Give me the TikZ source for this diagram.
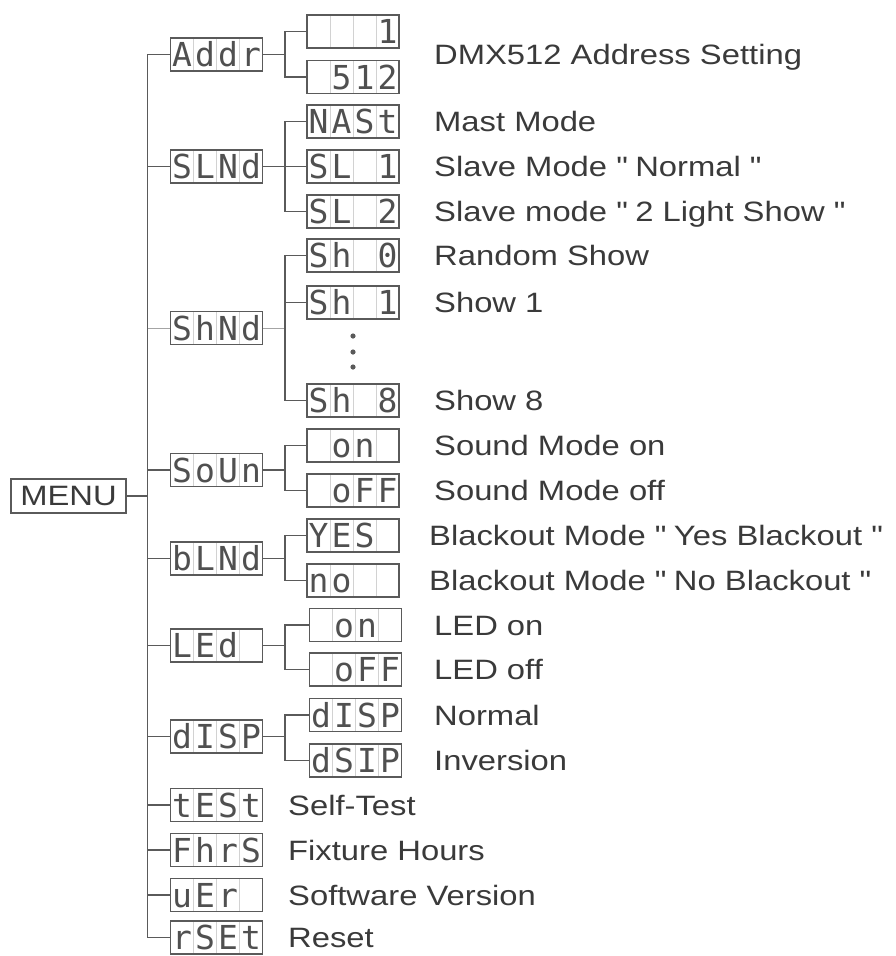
\documentclass[tikz,border=0pt]{standalone}
\usepackage{fontspec}
\setmainfont{Liberation Sans}[FakeStretch=1.17]
\newfontfamily\lcdfont{DejaVu Sans Mono}
\usetikzlibrary{calc}
\definecolor{inkgray}{HTML}{3A3A3A}
\definecolor{linegray}{HTML}{5A5A5A}
\definecolor{cellgray}{HTML}{D2D2D2}
\definecolor{seggray}{HTML}{505050}
% four cells of a display
\newcommand{\lcd}[4]{\makebox[23pt]{#1}\makebox[23pt]{#2}\makebox[23pt]{#3}\makebox[23pt]{#4}}
\newcommand{\qq}{\textquotedbl}
\tikzset{
    lcdbox/.style={draw=linegray, line width=1.3pt, minimum width=92pt, minimum height=33pt,
        inner sep=0pt, text height=24pt, text depth=0pt, text=seggray,
        font=\lcdfont\fontsize{33}{33}\selectfont,
        path picture={\foreach \k in {1,2,3}{
            \draw[cellgray, line width=0.8pt]
                ($(path picture bounding box.north west)!\k/4!(path picture bounding box.north east)$) --
                ($(path picture bounding box.south west)!\k/4!(path picture bounding box.south east)$);}}},
    lbl/.style={anchor=base west, inner sep=0pt, text=inkgray, font=\fontsize{28}{30}\selectfont},
    link/.style={draw=linegray, line width=1.4pt},
    faint/.style={draw=linegray!55, line width=0.8pt},
}
\begin{document}
\begin{tikzpicture}[x=1pt, y=-1pt]
    \useasboundingbox (0,0) rectangle (896,956);

    % ROOT: MENU
    \node[draw=linegray, line width=1.3pt, minimum width=115pt, minimum height=34pt, inner sep=0pt,
        text=inkgray, font=\fontsize{28}{30}\selectfont] (menu) at (68.5,496) {MENU};
    \coordinate (trunk) at (147.5,496);

    % FIRST LEVEL
    \node[lcdbox] (addr) at (216.5,54.5) {\lcd{A}{d}{d}{r}};
    \node[lcdbox] (slmd) at (216.5,166.5) {\lcd{S}{L}{N}{d}};
    \node[lcdbox] (shmd) at (216.5,328) {\lcd{S}{h}{N}{d}};
    \node[lcdbox] (soun) at (216.5,470) {\lcd{S}{o}{U}{n}};
    \node[lcdbox] (blmd) at (216.5,558.5) {\lcd{b}{L}{N}{d}};
    \node[lcdbox] (led) at (216.5,645.5) {\lcd{L}{E}{d}{}};
    \node[lcdbox] (disp) at (216.5,736.5) {\lcd{d}{I}{S}{P}};
    \node[lcdbox] (test) at (216.5,805) {\lcd{t}{E}{S}{t}};
    \node[lcdbox] (fhrs) at (216.5,850) {\lcd{F}{h}{r}{S}};
    \node[lcdbox] (ver) at (216.5,895) {\lcd{u}{E}{r}{}};
    \node[lcdbox] (rset) at (216.5,937.5) {\lcd{r}{S}{E}{t}};

    % trunk
    \draw[link] (menu.east) -- (trunk);
    \draw[link] (addr.west) -| (trunk) |- (rset.west);
    \foreach \n in {slmd,soun,blmd,led,disp,test,fhrs,ver}
        \draw[link] (\n.west -| trunk) -- (\n.west);
    \draw[faint] (shmd.west -| trunk) -- (shmd.west);

    % Addr
    \node[lcdbox] (addrlo) at (353,31.5) {\lcd{}{}{}{1}};
    \node[lcdbox] (addrhi) at (353,77) {\lcd{}{5}{1}{2}};
    \coordinate (addrb) at (285,54.5);
    \draw[link] (addr.east) -- (addrb);
    \draw[link] (addrlo.west) -| (addrb) |- (addrhi.west);
    \node[lbl] (addrtxt) at (434,64.5) {DMX512 Address Setting};

    % SLNd
    \node[lcdbox] (mast) at (353,121.5) {\lcd{N}{A}{S}{t}};
    \node[lcdbox] (sl1) at (353,166.5) {\lcd{S}{L}{}{1}};
    \node[lcdbox] (sl2) at (353,211.5) {\lcd{S}{L}{}{2}};
    \coordinate (slb) at (285,166.5);
    \draw[link] (slmd.east) -- (sl1.west);
    \draw[link] (mast.west) -| (slb) |- (sl2.west);
    \node[lbl] (masttxt) at (434,131.5) {Mast Mode};
    \node[lbl] (sl1txt) at (434,176.5) {Slave Mode \qq{} Normal \qq};
    \node[lbl] (sl2txt) at (434,221.5) {Slave mode \qq{} 2 Light Show \qq};

    % ShNd
    \node[lcdbox] (sh0) at (353,255.5) {\lcd{S}{h}{}{0}};
    \node[lcdbox] (sh1) at (353,302.5) {\lcd{S}{h}{}{1}};
    \node[lcdbox] (sh8) at (353,400.5) {\lcd{S}{h}{}{8}};
    \coordinate (shb) at (285,328);
    \draw[faint] (shmd.east) -- (shb);
    \draw[link] (sh0.west) -| (shb) |- (sh8.west);
    \draw[link] (sh1.west -| shb) -- (sh1.west);
    \foreach \y in {336,352,367}
        \fill[linegray] (353,\y) circle (2.6pt);
    \node[lbl] (sh0txt) at (434,265.5) {Random Show};
    \node[lbl] (sh1txt) at (434,312.5) {Show 1};
    \node[lbl] (sh8txt) at (434,410.5) {Show 8};

    % SoUn
    \node[lcdbox] (sndon) at (353,445.5) {\lcd{}{o}{n}{}};
    \node[lcdbox] (sndoff) at (353,490.5) {\lcd{}{o}{F}{F}};
    \coordinate (sndb) at (285,470);
    \draw[link] (soun.east) -- (sndb);
    \draw[link] (sndon.west) -| (sndb) |- (sndoff.west);
    \node[lbl] (sndontxt) at (434,455.5) {Sound Mode on};
    \node[lbl] (sndofftxt) at (434,500.5) {Sound Mode off};

    % bLNd
    \node[lcdbox] (boyes) at (353,535.5) {\lcd{Y}{E}{S}{}};
    \node[lcdbox] (bono) at (353,580.5) {\lcd{n}{o}{}{}};
    \coordinate (bob) at (285,558.5);
    \draw[link] (blmd.east) -- (bob);
    \draw[link] (boyes.west) -| (bob) |- (bono.west);
    \node[lbl] (boyestxt) at (429,545.5) {Blackout Mode \qq{} Yes Blackout \qq};
    \node[lbl] (bonotxt) at (429,590.5) {Blackout Mode \qq{} No Blackout \qq};

    % LEd
    \node[lcdbox] (ledon) at (355.5,625) {\lcd{}{o}{n}{}};
    \node[lcdbox] (ledoff) at (355.5,669.5) {\lcd{}{o}{F}{F}};
    \coordinate (ledb) at (285,645.5);
    \draw[link] (led.east) -- (ledb);
    \draw[link] (ledon.west) -| (ledb) |- (ledoff.west);
    \node[lbl] (ledontxt) at (434,635) {LED on};
    \node[lbl] (ledofftxt) at (434,679.5) {LED off};

    % dISP
    \node[lcdbox] (dnorm) at (355.5,715) {\lcd{d}{I}{S}{P}};
    \node[lcdbox] (dinv) at (355.5,760.5) {\lcd{d}{S}{I}{P}};
    \coordinate (db) at (285,736.5);
    \draw[link] (disp.east) -- (db);
    \draw[link] (dnorm.west) -| (db) |- (dinv.west);
    \node[lbl] (dnormtxt) at (434,725) {Normal};
    \node[lbl] (dinvtxt) at (434,770.5) {Inversion};

    % single entries
    \node[lbl] (testtxt) at (288,815) {Self-Test};
    \node[lbl] (fhrstxt) at (288,860) {Fixture Hours};
    \node[lbl] (vertxt) at (288,905) {Software Version};
    \node[lbl] (rsettxt) at (288,947.5) {Reset};
\end{tikzpicture}
\end{document}
